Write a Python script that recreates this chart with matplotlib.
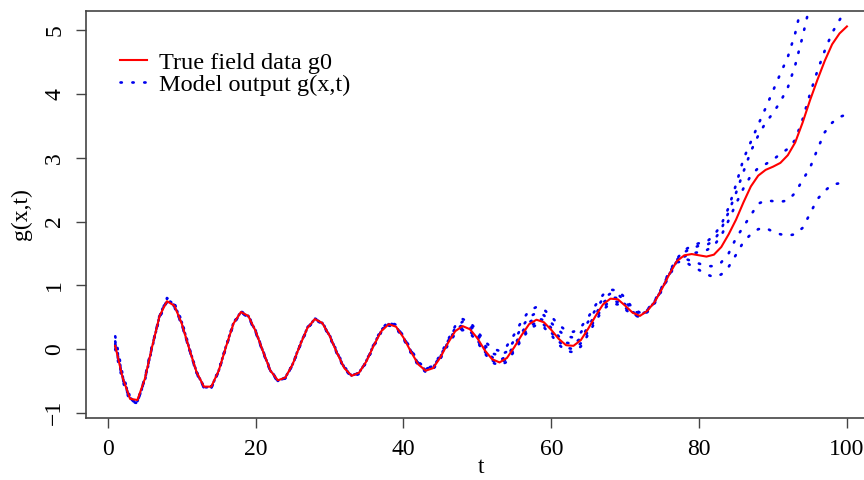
import numpy as np
import matplotlib.pyplot as plt

plt.rcParams['font.family'] = ['Liberation Serif', 'DejaVu Serif']

t = np.arange(1, 101)

# true field data (red)
g0 = [0.05, -0.45, -0.78, -0.80, -0.47, 0.04, 0.52, 0.75, 0.68, 0.40,
      0.01, -0.36, -0.59, -0.59, -0.34, 0.04, 0.40, 0.58, 0.52, 0.28,
      -0.04, -0.34, -0.49, -0.45, -0.24, 0.06, 0.33, 0.47, 0.41, 0.21,
      -0.06, -0.30, -0.42, -0.37, -0.19, 0.06, 0.28, 0.39, 0.35, 0.18,
      -0.04, -0.24, -0.34, -0.30, -0.13, 0.09, 0.28, 0.36, 0.31, 0.17,
      -0.02, -0.16, -0.21, -0.14, 0.03, 0.22, 0.39, 0.46, 0.42, 0.30,
      0.16, 0.06, 0.05, 0.14, 0.32, 0.52, 0.70, 0.79, 0.78, 0.68,
      0.57, 0.52, 0.60, 0.74, 0.95, 1.18, 1.38, 1.47, 1.49, 1.47,
      1.45, 1.48, 1.60, 1.80, 2.03, 2.30, 2.55, 2.72, 2.81, 2.86,
      2.92, 3.04, 3.24, 3.55, 3.90, 4.22, 4.52, 4.78, 4.95, 5.06]

# model outputs g(x,t) (blue dotted)
run_a = [0.20, -0.40, -0.75, -0.82, -0.50, 0.02, 0.52, 0.80, 0.72, 0.44,
         0.03, -0.35, -0.60, -0.61, -0.35, 0.04, 0.41, 0.59, 0.53, 0.29,
         -0.03, -0.33, -0.49, -0.46, -0.25, 0.06, 0.34, 0.48, 0.42, 0.22,
         -0.04, -0.28, -0.41, -0.38, -0.18, 0.08, 0.31, 0.43, 0.38, 0.20,
         0.00, -0.20, -0.30, -0.27, -0.09, 0.14, 0.36, 0.47, 0.42, 0.28,
         0.12, 0.01, -0.03, 0.05, 0.23, 0.44, 0.60, 0.66, 0.62, 0.51,
         0.38, 0.29, 0.27, 0.34, 0.50, 0.69, 0.85, 0.93, 0.92, 0.80,
         0.64, 0.57, 0.62, 0.76, 0.98, 1.22, 1.42, 1.55, 1.62, 1.66,
         1.68, 1.78, 1.95, 2.22, 2.58, 2.98, 3.25, 3.52, 3.78, 4.05,
         4.32, 4.58, 4.95, 5.45, 5.95, 6.40, 6.80, 7.10, 7.35, 7.55]
run_b = [0.12, -0.43, -0.77, -0.83, -0.48, 0.04, 0.53, 0.78, 0.70, 0.42,
         0.02, -0.36, -0.60, -0.60, -0.34, 0.05, 0.41, 0.58, 0.52, 0.28,
         -0.04, -0.34, -0.50, -0.45, -0.24, 0.07, 0.33, 0.47, 0.41, 0.21,
         -0.05, -0.29, -0.42, -0.37, -0.18, 0.07, 0.30, 0.41, 0.37, 0.19,
         -0.02, -0.22, -0.31, -0.28, -0.11, 0.12, 0.33, 0.43, 0.38, 0.24,
         0.06, -0.07, -0.10, -0.04, 0.14, 0.34, 0.50, 0.57, 0.53, 0.41,
         0.29, 0.20, 0.18, 0.26, 0.43, 0.62, 0.79, 0.87, 0.86, 0.75,
         0.61, 0.55, 0.61, 0.75, 0.97, 1.20, 1.40, 1.52, 1.58, 1.62,
         1.63, 1.70, 1.88, 2.15, 2.45, 2.78, 3.10, 3.35, 3.55, 3.70,
         3.88, 4.10, 4.45, 4.90, 5.40, 5.85, 6.25, 6.55, 6.80, 7.00]
run_c = [0.08, -0.45, -0.79, -0.82, -0.47, 0.05, 0.52, 0.76, 0.69, 0.40,
         0.01, -0.37, -0.59, -0.59, -0.33, 0.05, 0.40, 0.58, 0.51, 0.27,
         -0.04, -0.34, -0.49, -0.45, -0.24, 0.06, 0.33, 0.47, 0.41, 0.21,
         -0.06, -0.30, -0.42, -0.37, -0.19, 0.06, 0.28, 0.39, 0.35, 0.18,
         -0.03, -0.23, -0.33, -0.29, -0.12, 0.10, 0.30, 0.38, 0.33, 0.19,
         0.01, -0.13, -0.18, -0.11, 0.06, 0.26, 0.42, 0.49, 0.45, 0.33,
         0.20, 0.10, 0.08, 0.17, 0.35, 0.55, 0.73, 0.81, 0.80, 0.70,
         0.58, 0.53, 0.60, 0.74, 0.95, 1.18, 1.38, 1.45, 1.50, 1.52,
         1.55, 1.62, 1.78, 2.02, 2.28, 2.52, 2.72, 2.84, 2.90, 2.97,
         3.06, 3.14, 3.28, 3.60, 4.00, 4.36, 4.68, 4.96, 5.16, 5.35]
run_d = [0.05, -0.47, -0.80, -0.84, -0.46, 0.05, 0.50, 0.75, 0.67, 0.39,
         0.00, -0.37, -0.60, -0.60, -0.34, 0.04, 0.39, 0.57, 0.51, 0.27,
         -0.05, -0.35, -0.50, -0.46, -0.24, 0.05, 0.32, 0.46, 0.40, 0.20,
         -0.07, -0.31, -0.43, -0.38, -0.20, 0.05, 0.27, 0.38, 0.34, 0.17,
         -0.05, -0.25, -0.35, -0.31, -0.14, 0.08, 0.26, 0.33, 0.28, 0.14,
         -0.04, -0.18, -0.22, -0.16, 0.00, 0.19, 0.35, 0.42, 0.38, 0.26,
         0.12, 0.02, 0.00, 0.09, 0.28, 0.48, 0.66, 0.75, 0.74, 0.65,
         0.55, 0.51, 0.59, 0.73, 0.94, 1.17, 1.37, 1.42, 1.38, 1.34,
         1.30, 1.30, 1.36, 1.50, 1.74, 1.92, 2.10, 2.28, 2.33, 2.32,
         2.31, 2.33, 2.45, 2.65, 2.84, 3.13, 3.40, 3.55, 3.64, 3.68]
run_e = [0.00, -0.50, -0.82, -0.85, -0.45, 0.06, 0.49, 0.74, 0.66, 0.38,
         0.00, -0.38, -0.61, -0.61, -0.35, 0.03, 0.39, 0.57, 0.50, 0.26,
         -0.05, -0.35, -0.51, -0.46, -0.25, 0.05, 0.32, 0.46, 0.40, 0.20,
         -0.07, -0.31, -0.44, -0.39, -0.20, 0.05, 0.27, 0.37, 0.33, 0.16,
         -0.06, -0.26, -0.36, -0.32, -0.15, 0.06, 0.24, 0.30, 0.25, 0.11,
         -0.07, -0.21, -0.26, -0.20, -0.03, 0.15, 0.31, 0.38, 0.34, 0.22,
         0.07, -0.03, -0.05, 0.04, 0.23, 0.44, 0.62, 0.71, 0.70, 0.62,
         0.54, 0.50, 0.58, 0.72, 0.93, 1.16, 1.36, 1.38, 1.30, 1.24,
         1.17, 1.13, 1.17, 1.29, 1.48, 1.68, 1.80, 1.88, 1.90, 1.84,
         1.80, 1.78, 1.80, 1.90, 2.12, 2.35, 2.48, 2.58, 2.60, 2.58]

runs = [run_a, run_b, run_c, run_d, run_e]

fig = plt.figure(figsize=(8.64, 4.8), dpi=100)
ax = fig.add_axes([0.0995, 0.1298, 0.9146, 0.847])

dotted = (0, (0.5, 4.0))
for i, r in enumerate(runs):
    ax.plot(t, r, color='#0000ee', lw=1.9, linestyle=dotted,
            dash_capstyle='round', label='Model output g(x,t)' if i == 0 else None)
ax.plot(t, g0, color='#ff0000', lw=1.5, label='True field data g0', zorder=5)

ax.set_xlim(-2.96, 103.96)
ax.set_ylim(-1.077, 5.30)
ax.set_xticks([0, 20, 40, 60, 80, 100])
ax.set_yticks([-1, 0, 1, 2, 3, 4, 5])
for lab in ax.get_yticklabels():
    lab.set_rotation(90)
    lab.set_va('center')
ax.tick_params(direction='out', length=7, width=1, colors='#444444',
               labelcolor='black', labelsize=17, pad=8)
for s in ax.spines.values():
    s.set_color('#444444')
    s.set_linewidth(1.2)

ax.set_xlabel('t', fontsize=17, labelpad=-2)
ax.set_ylabel('g(x,t)', fontsize=17, labelpad=9)

h, l = ax.get_legend_handles_labels()
ax.legend(h[::-1], l[::-1], loc='upper left', bbox_to_anchor=(0.043, 0.90),
          frameon=False, fontsize=17.5, handlelength=1.1, handletextpad=0.5,
          labelspacing=0.0, borderpad=0, borderaxespad=0)

fig.savefig('out.png', dpi=100)
